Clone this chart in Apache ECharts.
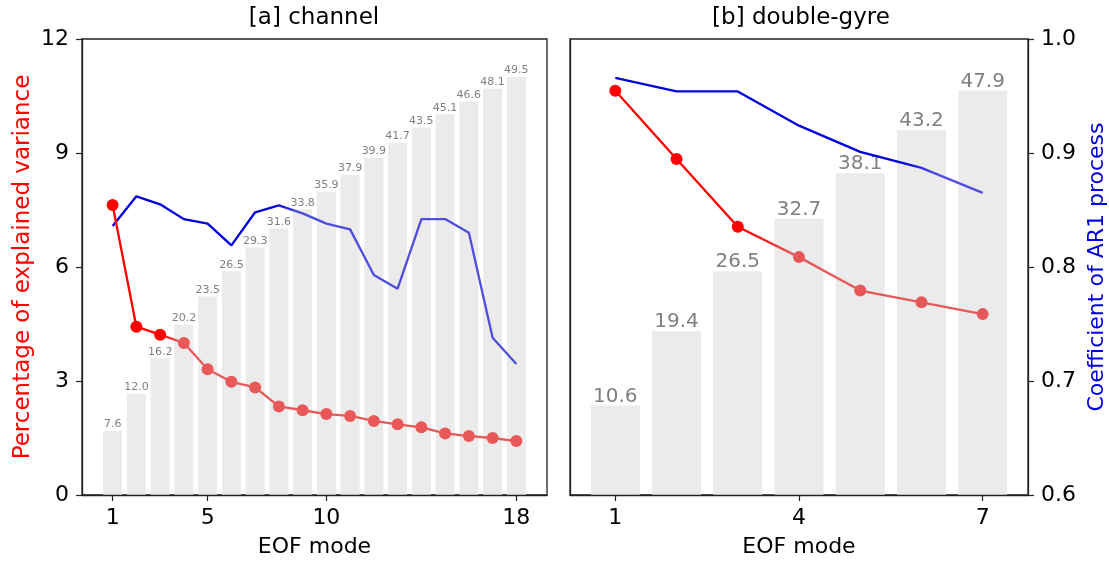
<!DOCTYPE html>
<html>
<head>
<meta charset="utf-8">
<script src="https://cdn.jsdelivr.net/npm/echarts@6/dist/echarts.min.js"></script>
<style>
  html, body { margin: 0; padding: 0; background: #fff; }
  #chart { width: 1109px; height: 563px; }
</style>
</head>
<body>
<div id="chart"></div>
<script>
// [a] channel
const modesA = [1, 2, 3, 4, 5, 6, 7, 8, 9, 10, 11, 12, 13, 14, 15, 16, 17, 18];
const cumA = [7.6, 12.0, 16.2, 20.2, 23.5, 26.5, 29.3, 31.6, 33.8, 35.9, 37.9, 39.9, 41.7, 43.5, 45.1, 46.6, 48.1, 49.5];
const varA = [7.63, 4.43, 4.22, 4.0, 3.31, 2.98, 2.83, 2.33, 2.23, 2.13, 2.08, 1.95, 1.86, 1.78, 1.62, 1.55, 1.50, 1.42];
const ar1A = [0.836, 0.862, 0.855, 0.842, 0.838, 0.819, 0.848, 0.854, 0.847, 0.838, 0.833, 0.793, 0.781, 0.842, 0.842, 0.830, 0.738, 0.715];
const ticksA = [1, 5, 10, 18];

// [b] double-gyre
const modesB = [1, 2, 3, 4, 5, 6, 7];
const cumB = [10.6, 19.4, 26.5, 32.7, 38.1, 43.2, 47.9];
const varB = [10.64, 8.84, 7.06, 6.26, 5.38, 5.07, 4.76];
const ar1B = [0.966, 0.954, 0.954, 0.924, 0.901, 0.887, 0.865];
const ticksB = [1, 4, 7];

const FONT = 'DejaVu Sans';
const RED = '#ff0000', RED_PALE = '#e95858';
const BLUE = '#0000dd', BLUE_PALE = '#4d4ddf';

function pairs(xs, ys) { return xs.map((x, i) => [x, ys[i]]); }

// horizontal gradient: full colour up to `a`, faded after `b`
function fade(c1, c2, a, b) {
  return new echarts.graphic.LinearGradient(0, 0, 1, 0, [
    { offset: 0, color: c1 }, { offset: a, color: c1 },
    { offset: b, color: c2 }, { offset: 1, color: c2 }
  ]);
}

const tickLabel = { color: '#000', fontSize: 22, fontFamily: FONT, margin: 13 };
const tick = { show: true, inside: false, length: 6, lineStyle: { color: '#222', width: 1.2 } };
const spine = { show: true, onZero: false, lineStyle: { color: '#222', width: 1.3 } };
const nameStyle = { fontSize: 22, fontFamily: FONT, color: '#000' };

function xAxis(grid, min, max, ticks) {
  return {
    type: 'value', gridIndex: grid, min: min, max: max, interval: 1, z: 10,
    name: 'EOF mode', nameLocation: 'middle', nameGap: 41,
    nameTextStyle: nameStyle,
    axisLine: spine,
    axisTick: Object.assign({}, tick, { customValues: ticks }),
    axisLabel: Object.assign({}, tickLabel, { customValues: ticks, margin: 12 }),
    splitLine: { show: false }
  };
}

const chart = echarts.init(document.getElementById('chart'));

chart.setOption({
  animation: false,
  textStyle: { fontFamily: FONT },
  title: [
    { text: '[a] channel', left: 314, top: 7, textAlign: 'center', padding: 0,
      textStyle: { fontSize: 23, fontWeight: 'normal', color: '#000', fontFamily: FONT } },
    { text: '[b] double-gyre', left: 801, top: 7, textAlign: 'center', padding: 0,
      textStyle: { fontSize: 23, fontWeight: 'normal', color: '#000', fontFamily: FONT } }
  ],
  grid: [
    { left: 82, top: 39, width: 465, height: 460, show: true, borderColor: '#222', borderWidth: 1.3, backgroundColor: 'transparent' },
    { left: 570, top: 39, width: 463, height: 460, show: true, borderColor: '#222', borderWidth: 1.3, backgroundColor: 'transparent' }
  ],
  xAxis: [
    xAxis(0, -0.29, 19.29, ticksA),
    xAxis(1, 0.26, 7.74, ticksB)
  ],
  yAxis: [
    // 0: left panel, explained variance
    { type: 'value', gridIndex: 0, position: 'left', min: 0, max: 12, interval: 3, z: 10,
      name: 'Percentage of explained variance', nameLocation: 'middle', nameGap: 47,
      nameTextStyle: Object.assign({}, nameStyle, { fontSize: 23, color: '#ff0000' }),
      axisLine: spine, axisTick: tick, axisLabel: tickLabel, splitLine: { show: false } },
    // 1: left panel, AR1 (hidden)
    { type: 'value', gridIndex: 0, position: 'right', min: 0.6, max: 1.0, show: false },
    // 2: left panel, cumulative bars (hidden)
    { type: 'value', gridIndex: 0, position: 'right', min: 0, max: 54, show: false },
    // 3: right panel, explained variance (shared, no labels)
    { type: 'value', gridIndex: 1, position: 'left', min: 0, max: 12, interval: 3, z: 10,
      axisLine: spine, axisTick: { show: false }, axisLabel: { show: false }, splitLine: { show: false } },
    // 4: right panel, AR1
    { type: 'value', gridIndex: 1, position: 'right', min: 0.6, max: 1.0, interval: 0.1, z: 10,
      name: 'Coefficient of AR1 process', nameLocation: 'middle', nameGap: 58,
      nameTextStyle: Object.assign({}, nameStyle, { color: '#0000dd' }),
      axisLine: spine, axisTick: tick,
      axisLabel: Object.assign({}, tickLabel, { formatter: v => v.toFixed(1) }),
      splitLine: { show: false } },
    // 5: right panel, cumulative bars (hidden)
    { type: 'value', gridIndex: 1, position: 'right', min: 0, max: 54, show: false }
  ],
  series: [
    {
      type: 'bar', xAxisIndex: 0, yAxisIndex: 2, z: 1, barWidth: 19,
      data: pairs(modesA, cumA),
      itemStyle: { color: '#ebebeb' },
      label: { show: true, position: 'top', distance: 1, fontSize: 11, color: '#808080',
        fontFamily: FONT, formatter: p => p.value[1].toFixed(1) }
    },
    {
      type: 'line', xAxisIndex: 0, yAxisIndex: 1, z: 3, symbol: 'none',
      data: pairs(modesA, ar1A),
      lineStyle: { width: 2.3, color: fade(BLUE, BLUE_PALE, 0.4, 0.46) }
    },
    {
      type: 'line', xAxisIndex: 0, yAxisIndex: 0, z: 4, symbol: 'circle', symbolSize: 12,
      data: pairs(modesA, varA),
      lineStyle: { width: 2.3, color: fade(RED, RED_PALE, 0.12, 0.17) },
      itemStyle: { color: p => p.dataIndex < 3 ? RED : RED_PALE }
    },
    {
      type: 'bar', xAxisIndex: 1, yAxisIndex: 5, z: 1, barWidth: 49,
      data: pairs(modesB, cumB),
      itemStyle: { color: '#ebebeb' },
      label: { show: true, position: 'top', distance: -1, fontSize: 20, color: '#808080',
        fontFamily: FONT, formatter: p => p.value[1].toFixed(1) }
    },
    {
      type: 'line', xAxisIndex: 1, yAxisIndex: 4, z: 3, symbol: 'none',
      data: pairs(modesB, ar1B),
      lineStyle: { width: 2.3, color: fade(BLUE, BLUE_PALE, 0.78, 0.86) }
    },
    {
      type: 'line', xAxisIndex: 1, yAxisIndex: 3, z: 4, symbol: 'circle', symbolSize: 12,
      data: pairs(modesB, varB),
      lineStyle: { width: 2.3, color: fade(RED, RED_PALE, 0.36, 0.48) },
      itemStyle: { color: p => p.dataIndex < 3 ? RED : RED_PALE }
    }
  ]
});
</script>
</body>
</html>
